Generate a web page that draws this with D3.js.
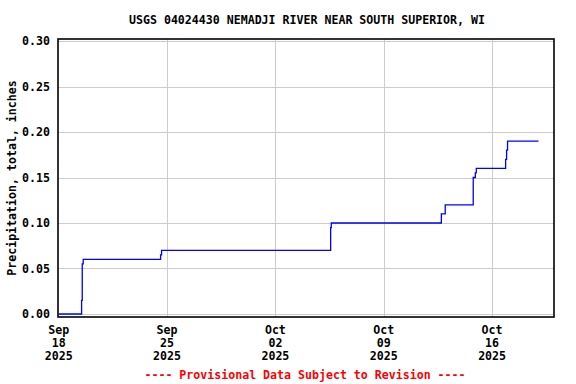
<!DOCTYPE html>
<html>
<head>
<meta charset="utf-8">
<script src="https://cdn.jsdelivr.net/npm/d3@7"></script>
<style>
  body { margin: 0; background: #fff; }
  svg { display: block; }
  text { font-family: "DejaVu Sans Mono", "Liberation Mono", monospace; font-weight: bold; font-size: 11.6px; fill: #000; }
</style>
</head>
<body>
<svg id="chart" width="576" height="384"></svg>
<script>
// cumulative precipitation readings (time, inches)
const times = [
  "2025-09-18T00:00", "2025-09-19T11:30", "2025-09-19T12:30", "2025-09-19T14:00",
  "2025-09-24T14:00", "2025-09-24T15:30", "2025-10-05T13:40", "2025-10-05T14:40",
  "2025-10-12T17:20", "2025-10-12T23:20", "2025-10-14T18:45", "2025-10-14T22:00",
  "2025-10-14T23:30", "2025-10-16T21:00", "2025-10-16T22:30", "2025-10-17T00:00",
  "2025-10-19T00:00"
];
const precip = [
  0.00, 0.015, 0.055, 0.06,
  0.065, 0.07, 0.095, 0.10,
  0.11, 0.12, 0.15, 0.155,
  0.16, 0.17, 0.18, 0.19,
  0.19
];
const yTicks = [0, 0.05, 0.10, 0.15, 0.20, 0.25, 0.30];
const xTicks = ["2025-09-18", "2025-09-25", "2025-10-02", "2025-10-09", "2025-10-16"];

const title = "USGS 04024430 NEMADJI RIVER NEAR SOUTH SUPERIOR, WI";
const yLabel = "Precipitation, total, inches";
const footer = "---- Provisional Data Subject to Revision ----";

const svg = d3.select("#chart");
const frame = { left: 58, right: 554, top: 39, bottom: 317 };

const parse = d3.timeParse("%Y-%m-%dT%H:%M");
const parseDay = d3.timeParse("%Y-%m-%d");
const data = times.map((t, i) => ({ t: parse(t), v: precip[i] }));

const x = d3.scaleTime()
  .domain([parseDay("2025-09-18"), parseDay("2025-10-20")])
  .range([frame.left + 0.7, frame.right]);
const y = d3.scaleLinear().domain([0, 0.30]).range([314, 41]);

// grid
const grid = svg.append("g").attr("stroke", "#cccccc").attr("stroke-width", 1);
grid.selectAll(".gy").data(yTicks).enter().append("line")
  .attr("x1", frame.left).attr("x2", frame.right)
  .attr("y1", d => Math.round(y(d)) + 0.5).attr("y2", d => Math.round(y(d)) + 0.5);
grid.selectAll(".gx").data(xTicks.slice(1)).enter().append("line")
  .attr("x1", d => Math.round(x(parseDay(d))) + 0.5).attr("x2", d => Math.round(x(parseDay(d))) + 0.5)
  .attr("y1", frame.top).attr("y2", frame.bottom);

// data line
const line = d3.line()
  .x(d => x(d.t))
  .y(d => y(d.v))
  .curve(d3.curveStepAfter);
svg.append("path")
  .datum(data)
  .attr("fill", "none")
  .attr("stroke", "#0000ff")
  .attr("stroke-width", 1.3)
  .attr("d", line);

// frame
svg.append("rect")
  .attr("x", frame.left).attr("y", frame.top)
  .attr("width", frame.right - frame.left).attr("height", frame.bottom - frame.top)
  .attr("fill", "none").attr("stroke", "#000").attr("stroke-width", 1.6);

// y tick labels
svg.selectAll(".yl").data(yTicks).enter().append("text")
  .attr("x", 50).attr("y", d => y(d)).attr("dy", "0.35em")
  .attr("text-anchor", "end")
  .text(d => d3.format(".2f")(d));

// x tick labels (3 lines)
const fmtLines = [d3.timeFormat("%b"), d3.timeFormat("%d"), d3.timeFormat("%Y")];
const xl = svg.selectAll(".xl").data(xTicks).enter().append("text")
  .attr("text-anchor", "middle");
fmtLines.forEach((f, i) => {
  xl.append("tspan")
    .attr("x", d => x(parseDay(d)))
    .attr("y", 334 + i * 13)
    .text(d => f(parseDay(d)));
});

svg.append("text")
  .attr("x", 307).attr("y", 24)
  .attr("text-anchor", "middle")
  .text(title);

svg.append("text")
  .attr("transform", "translate(16,178) rotate(-90)")
  .attr("text-anchor", "middle")
  .text(yLabel);

svg.append("text")
  .attr("x", 305).attr("y", 379)
  .attr("text-anchor", "middle")
  .style("fill", "#ff0000")
  .text(footer);
</script>
</body>
</html>
